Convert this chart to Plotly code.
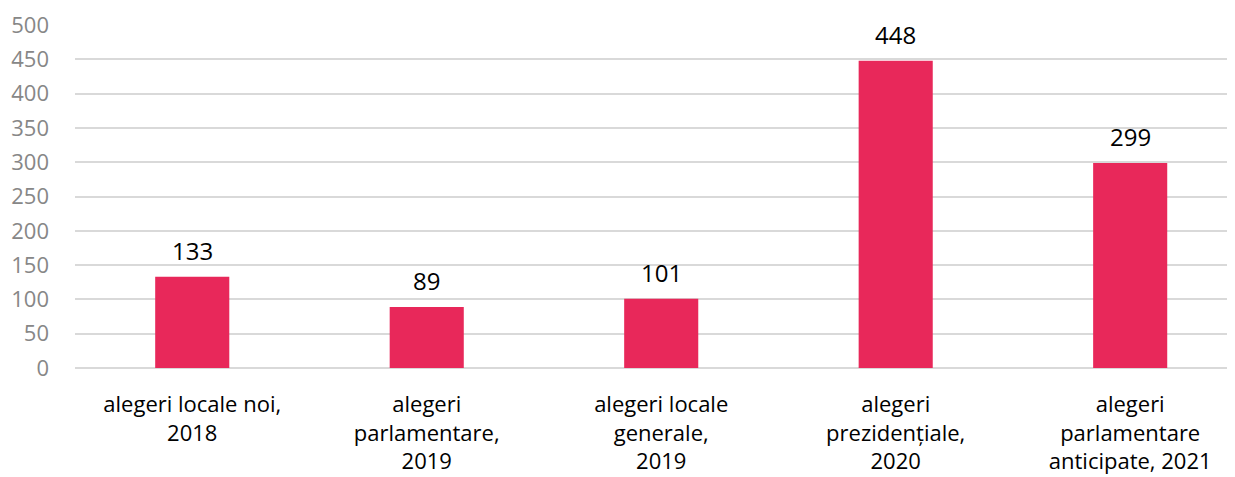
import plotly.graph_objects as go

categories = [
    "alegeri locale noi,<br>2018",
    "alegeri<br>parlamentare,<br>2019",
    "alegeri locale<br>generale,<br>2019",
    "alegeri<br>prezidențiale,<br>2020",
    "alegeri<br>parlamentare<br>anticipate, 2021",
]
values = [133, 89, 101, 448, 299]
y_ticks = [0, 50, 100, 150, 200, 250, 300, 350, 400, 450, 500]

FONT = "Open Sans"

fig = go.Figure(go.Bar(
    x=categories,
    y=values,
    marker=dict(color="#E8285A", line=dict(width=0)),
    cliponaxis=False,
))

for c, v in zip(categories, values):
    fig.add_annotation(
        x=c, y=v, text=str(v), showarrow=False,
        yanchor="middle", yshift=26,
        font=dict(family=FONT, size=24, color="#000000"),
    )

fig.update_layout(
    width=1227, height=469,
    margin=dict(l=67, r=0, t=17, b=109),
    paper_bgcolor="white", plot_bgcolor="white",
    bargap=0.684,
    showlegend=False,
    font=dict(family=FONT),
)
fig.update_xaxes(
    range=[-0.5, 4.447],
    tickfont=dict(family=FONT, size=22, color="#000000"),
    showgrid=False, showline=False, ticks="",
    automargin=False, ticklabelstandoff=21,
)
fig.update_yaxes(
    range=[0, 500], tickvals=y_ticks,
    tickfont=dict(family=FONT, size=22, color="#878787"),
    showgrid=True, gridcolor="#d9d9d9", gridwidth=1.5,
    zeroline=True, zerolinecolor="#d9d9d9", zerolinewidth=1.5,
    showline=False, ticks="", ticklabelstandoff=25,
    automargin=False,
)

fig.write_html("out.html")
